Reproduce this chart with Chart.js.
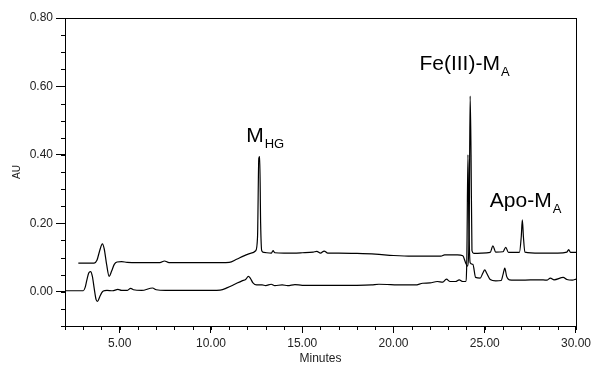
<!DOCTYPE html>
<html>
<head>
<meta charset="utf-8">
<script src="https://cdn.jsdelivr.net/npm/chart.js@4.4.1/dist/chart.umd.min.js"></script>
<style>
  html, body { margin: 0; padding: 0; background: #fff; }
  #wrap { width: 594px; height: 367px; }
</style>
</head>
<body>
<div id="wrap"><canvas id="chart" width="594" height="367"></canvas></div>
<script>
// tick labels
const xTickValues = [5, 10, 15, 20, 25, 30];
const yTickValues = [0, 0.2, 0.4, 0.6, 0.8];

// lower trace (run 1)
const lowerTime = [2.0, 3.0, 3.1, 3.2, 3.3, 3.4, 3.5, 3.6, 3.7, 3.78, 3.9, 4.0, 4.1, 4.3, 4.6, 4.9, 5.1, 5.4, 5.6, 5.75,
  6.2, 6.8, 7.0, 7.5, 8.5, 9.5, 10.5, 10.9, 11.3, 11.7, 11.9, 12.05, 12.15, 12.3, 12.5, 12.8, 13.0, 13.3, 13.5, 13.9,
  14.2, 14.6, 15.0, 16.0, 17.0, 18.0, 18.8, 19.2, 20.5, 21.2, 21.6, 22.0, 22.4, 22.7, 22.9, 23.1, 23.4, 23.6, 23.8, 23.95,
  24.02, 24.08, 24.13, 24.2, 24.35, 24.5, 24.75, 24.9, 25.0, 25.1, 25.3, 25.6, 25.9, 26.0, 26.1, 26.2, 26.35, 27.0, 28.0, 28.4,
  28.6, 28.8, 29.3, 29.5, 29.8, 30.0];
const lowerAU = [0.003, 0.003, 0.012, 0.035, 0.055, 0.059, 0.045, 0.01, -0.022, -0.028, -0.015, -0.004, 0.002, 0.004, 0.003, 0.007, 0.004, 0.004, 0.01, 0.006,
  0.004, 0.011, 0.006, 0.004, 0.004, 0.004, 0.005, 0.012, 0.022, 0.032, 0.036, 0.045, 0.04, 0.026, 0.02, 0.02, 0.018, 0.022, 0.018, 0.02,
  0.018, 0.021, 0.019, 0.019, 0.019, 0.019, 0.02, 0.022, 0.02, 0.02, 0.025, 0.026, 0.03, 0.028, 0.037, 0.03, 0.03, 0.035, 0.03, 0.03,
  0.1, 0.40, 0.2, 0.085, 0.08, 0.042, 0.04, 0.055, 0.064, 0.055, 0.036, 0.032, 0.033, 0.05, 0.069, 0.045, 0.035, 0.034, 0.035, 0.034,
  0.04, 0.035, 0.042, 0.036, 0.034, 0.037];

// upper trace (run 2)
const upperTime = [2.73, 3.6, 3.75, 3.9, 4.05, 4.15, 4.28, 4.42, 4.55, 4.7, 4.85, 5.1, 5.4, 6.0, 7.2, 7.45, 7.7, 9.0, 10.0, 11.0,
  11.4, 11.8, 12.2, 12.45, 12.55, 12.62, 12.67, 12.72, 12.78, 12.9, 13.3, 13.4, 13.5, 14.0, 14.5, 15.0, 15.6, 15.8, 16.0, 16.2,
  16.4, 17.0, 18.0, 19.0, 20.0, 21.0, 22.0, 22.6, 22.8, 23.5, 23.8, 23.95, 24.05, 24.15, 24.2, 24.25, 24.3, 24.4, 24.8, 25.3,
  25.45, 25.6, 26.0, 26.15, 26.3, 26.9, 27.0, 27.06, 27.12, 27.2, 28.0, 29.0, 29.5, 29.6, 29.7, 30.0];
const upperAU = [0.084, 0.084, 0.092, 0.12, 0.14, 0.125, 0.08, 0.045, 0.06, 0.08, 0.087, 0.088, 0.086, 0.085, 0.085, 0.09, 0.085, 0.085, 0.085, 0.086,
  0.095, 0.105, 0.113, 0.12, 0.16, 0.39, 0.395, 0.2, 0.12, 0.115, 0.113, 0.12, 0.114, 0.113, 0.113, 0.114, 0.116, 0.118, 0.113, 0.119,
  0.113, 0.113, 0.112, 0.11, 0.106, 0.104, 0.104, 0.104, 0.108, 0.108, 0.105, 0.085, 0.075, 0.2, 0.572, 0.4, 0.12, 0.112, 0.113, 0.115,
  0.134, 0.116, 0.117, 0.13, 0.115, 0.115, 0.16, 0.21, 0.16, 0.116, 0.113, 0.113, 0.116, 0.123, 0.115, 0.115];

// peak labels: main text, subscript, start time, baseline AU
const peakText = ['M', 'Fe(III)-M', 'Apo-M'];
const peakSub = ['HG', 'A', 'A'];
const peakTime = [11.93, 21.42, 25.28];
const peakAU = [0.438, 0.648, 0.248];

const toPoints = (ts, vs) => ts.map((t, i) => ({x: t, y: vs[i]}));

const FONT = "'Liberation Sans', Arial, sans-serif";

// minor ticks, box frame and peak labels
const chromPlugin = {
  id: 'chrom',
  afterDraw(chart) {
    const {ctx, chartArea: a, scales: {x, y}} = chart;
    ctx.save();
    ctx.strokeStyle = '#000';
    ctx.lineWidth = 1;
    ctx.beginPath();
    for (let t = 2; t <= 30; t += 1) {
      const px = Math.round(x.getPixelForValue(t)) + 0.5;
      ctx.moveTo(px, a.bottom);
      ctx.lineTo(px, a.bottom + 4);
    }
    for (let k = -2; k <= 16; k++) {
      const py = Math.round(y.getPixelForValue(k * 0.05)) + 0.5;
      ctx.moveTo(a.left - 4, py);
      ctx.lineTo(a.left, py);
    }
    ctx.stroke();
    ctx.strokeRect(Math.round(a.left) + 0.5, Math.round(a.top) + 0.5,
      Math.round(a.right - a.left), Math.round(a.bottom - a.top));

    ctx.fillStyle = '#000';
    ctx.textBaseline = 'alphabetic';
    ctx.textAlign = 'left';
    peakText.forEach((txt, i) => {
      const px = x.getPixelForValue(peakTime[i]);
      const py = y.getPixelForValue(peakAU[i]);
      ctx.font = '21px ' + FONT;
      ctx.fillText(txt, px, py);
      const w = ctx.measureText(txt).width;
      ctx.font = '13px ' + FONT;
      ctx.fillText(peakSub[i], px + w + 1, py + 6);
    });
    ctx.restore();
  }
};

new Chart(document.getElementById('chart'), {
  type: 'line',
  data: {
    datasets: [
      {
        label: 'lower',
        data: toPoints(lowerTime, lowerAU),
        borderColor: '#000',
        borderWidth: 1.2,
        pointRadius: 0,
        cubicInterpolationMode: 'monotone'
      },
      {
        label: 'upper',
        data: toPoints(upperTime, upperAU),
        borderColor: '#000',
        borderWidth: 1.2,
        pointRadius: 0,
        cubicInterpolationMode: 'monotone'
      }
    ]
  },
  options: {
    responsive: false,
    animation: false,
    layout: { padding: { top: 18, right: 16, left: 0, bottom: 0 } },
    plugins: { legend: { display: false }, tooltip: { enabled: false } },
    scales: {
      x: {
        type: 'linear',
        min: 2,
        max: 30,
        afterBuildTicks: s => { s.ticks = xTickValues.map(v => ({value: v})); },
        afterFit: s => { s.height = 41; },
        grid: { drawOnChartArea: false, tickLength: 7, tickColor: '#000' },
        border: { color: '#000' },
        ticks: {
          padding: 3,
          maxRotation: 0,
          color: '#222',
          font: { family: FONT, size: 12 },
          callback: v => v.toFixed(2)
        },
        title: { display: true, text: 'Minutes', color: '#222', font: { family: FONT, size: 12 }, padding: { top: 0, bottom: 1 } }
      },
      y: {
        min: -0.1,
        max: 0.8,
        afterBuildTicks: s => { s.ticks = yTickValues.map(v => ({value: v})); },
        afterFit: s => { s.width = 65; },
        grid: { drawOnChartArea: false, tickLength: 9, tickColor: '#000' },
        border: { color: '#000' },
        ticks: {
          padding: 3,
          color: '#222',
          font: { family: FONT, size: 12 },
          callback: v => v.toFixed(2)
        },
        title: { display: true, text: 'AU', color: '#222', font: { family: FONT, size: 10 }, padding: { top: 11, bottom: 0 } }
      }
    }
  },
  plugins: [chromPlugin]
});
</script>
</body>
</html>
